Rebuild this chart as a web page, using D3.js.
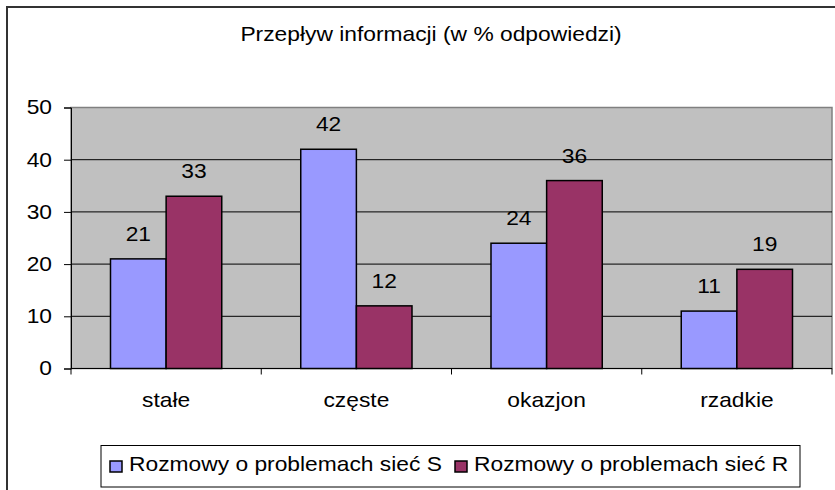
<!DOCTYPE html>
<html>
<head>
<meta charset="utf-8">
<script src="https://cdn.jsdelivr.net/npm/d3@7"></script>
<style>
  body { margin: 0; background: #fff; }
  text { font-family: "Liberation Sans", Arial, sans-serif; fill: #000; }
</style>
</head>
<body>
<div id="container"></div>
<script>
var width = 835,
    height = 490;

var categories = ["stałe", "częste", "okazjon", "rzadkie"];
var seriesNames = ["Rozmowy o problemach sieć S", "Rozmowy o problemach sieć R"];
var valuesS = [21, 42, 24, 11];
var valuesR = [33, 12, 36, 19];
var yTicks = [0, 10, 20, 30, 40, 50];
var colors = ["#9999FF", "#993366"];

var margin = {left: 71, right: 3, top: 107.5, bottom: 121.5};
var sx = 1.14; // the original text is a bit wider than it is tall

var svg = d3.select("#container").append("svg")
    .attr("width", width)
    .attr("height", height);

// place a text at (px,py) stretched horizontally
function stretched(sel, px, py) {
    return sel.attr("x", 0).attr("y", 0)
        .attr("transform", "translate(" + px + "," + py + ") scale(" + sx + ",1)");
}

// outer chart border
svg.append("rect")
    .attr("x", 7).attr("y", 7)
    .attr("width", 840).attr("height", 500)
    .attr("fill", "#fff")
    .attr("stroke", "#333")
    .attr("stroke-width", 2);

stretched(svg.append("text"), 431, 41)
    .attr("text-anchor", "middle")
    .attr("font-size", 20)
    .text("Przepływ informacji (w % odpowiedzi)");

var x = d3.scaleBand()
    .domain(categories)
    .range([margin.left, width - margin.right]);

var x1 = d3.scaleBand()
    .domain([0, 1])
    .range([0, x.bandwidth()])
    .paddingOuter(0.71)
    .paddingInner(0);

var y = d3.scaleLinear()
    .domain([0, 50])
    .range([height - margin.bottom, margin.top]);

// plot area
svg.append("rect")
    .attr("x", x.range()[0]).attr("y", y(50))
    .attr("width", x.range()[1] - x.range()[0])
    .attr("height", y(0) - y(50))
    .attr("fill", "#C0C0C0")
    .attr("stroke", "#808080")
    .attr("stroke-width", 1.5);

// gridlines
svg.append("g").selectAll("line")
    .data(yTicks.filter(d => d > 0 && d < 50))
    .join("line")
    .attr("x1", x.range()[0]).attr("x2", x.range()[1])
    .attr("y1", d => y(d)).attr("y2", d => y(d))
    .attr("stroke", "#000")
    .attr("stroke-width", 1);

var data = [];
categories.forEach((c, i) => {
    data.push({cat: c, s: 0, v: valuesS[i]});
    data.push({cat: c, s: 1, v: valuesR[i]});
});

svg.append("g").selectAll("rect")
    .data(data)
    .join("rect")
    .attr("x", d => x(d.cat) + x1(d.s))
    .attr("y", d => y(d.v))
    .attr("width", x1.bandwidth())
    .attr("height", d => y(0) - y(d.v))
    .attr("fill", d => colors[d.s])
    .attr("stroke", "#000")
    .attr("stroke-width", 1.5);

svg.append("g").selectAll("text")
    .data(data)
    .join("text")
    .attr("transform", d => "translate(" + (x(d.cat) + x1(d.s) + x1.bandwidth() / 2) + "," + (y(d.v) - 18) + ") scale(" + sx + ",1)")
    .attr("text-anchor", "middle")
    .attr("font-size", 20)
    .text(d => d.v);

// y axis
var yAxis = svg.append("g")
    .attr("transform", "translate(" + margin.left + ",0)")
    .call(d3.axisLeft(y).tickValues(yTicks).tickSize(7));
yAxis.selectAll("text")
    .attr("font-size", 20)
    .attr("font-family", "Liberation Sans, Arial, sans-serif")
    .attr("x", -19 / sx)
    .attr("transform", "scale(" + sx + ",1)");
yAxis.selectAll("line, path").attr("stroke", "#000");

// x axis
var xAxis = svg.append("g")
    .attr("transform", "translate(0," + y(0) + ")")
    .call(d3.axisBottom(x).tickSize(0).tickPadding(24));
xAxis.selectAll("text")
    .attr("font-size", 20)
    .attr("font-family", "Liberation Sans, Arial, sans-serif")
    .attr("transform", "scale(" + sx + ",1)");
xAxis.select("path").attr("stroke", "#000").attr("d", "M" + x.range()[0] + ",0H" + x.range()[1]);
xAxis.selectAll(".tick line").remove();
xAxis.append("g").selectAll("line")
    .data(categories.map(c => x(c)).concat([x.range()[1]]))
    .join("line")
    .attr("x1", d => d).attr("x2", d => d)
    .attr("y1", 0).attr("y2", 6)
    .attr("stroke", "#000");

// legend
var legend = svg.append("g");
legend.append("rect")
    .attr("x", 101).attr("y", 445.5)
    .attr("width", 699).attr("height", 41.5)
    .attr("fill", "#fff")
    .attr("stroke", "#000")
    .attr("stroke-width", 1);

var legendX = [110, 455];
seriesNames.forEach((name, i) => {
    legend.append("rect")
        .attr("x", legendX[i]).attr("y", 461)
        .attr("width", 12).attr("height", 11)
        .attr("fill", colors[i])
        .attr("stroke", "#000")
        .attr("stroke-width", 1.5);
    stretched(legend.append("text"), legendX[i] + 19, 471)
        .attr("font-size", 20)
        .text(name);
});
</script>
</body>
</html>
